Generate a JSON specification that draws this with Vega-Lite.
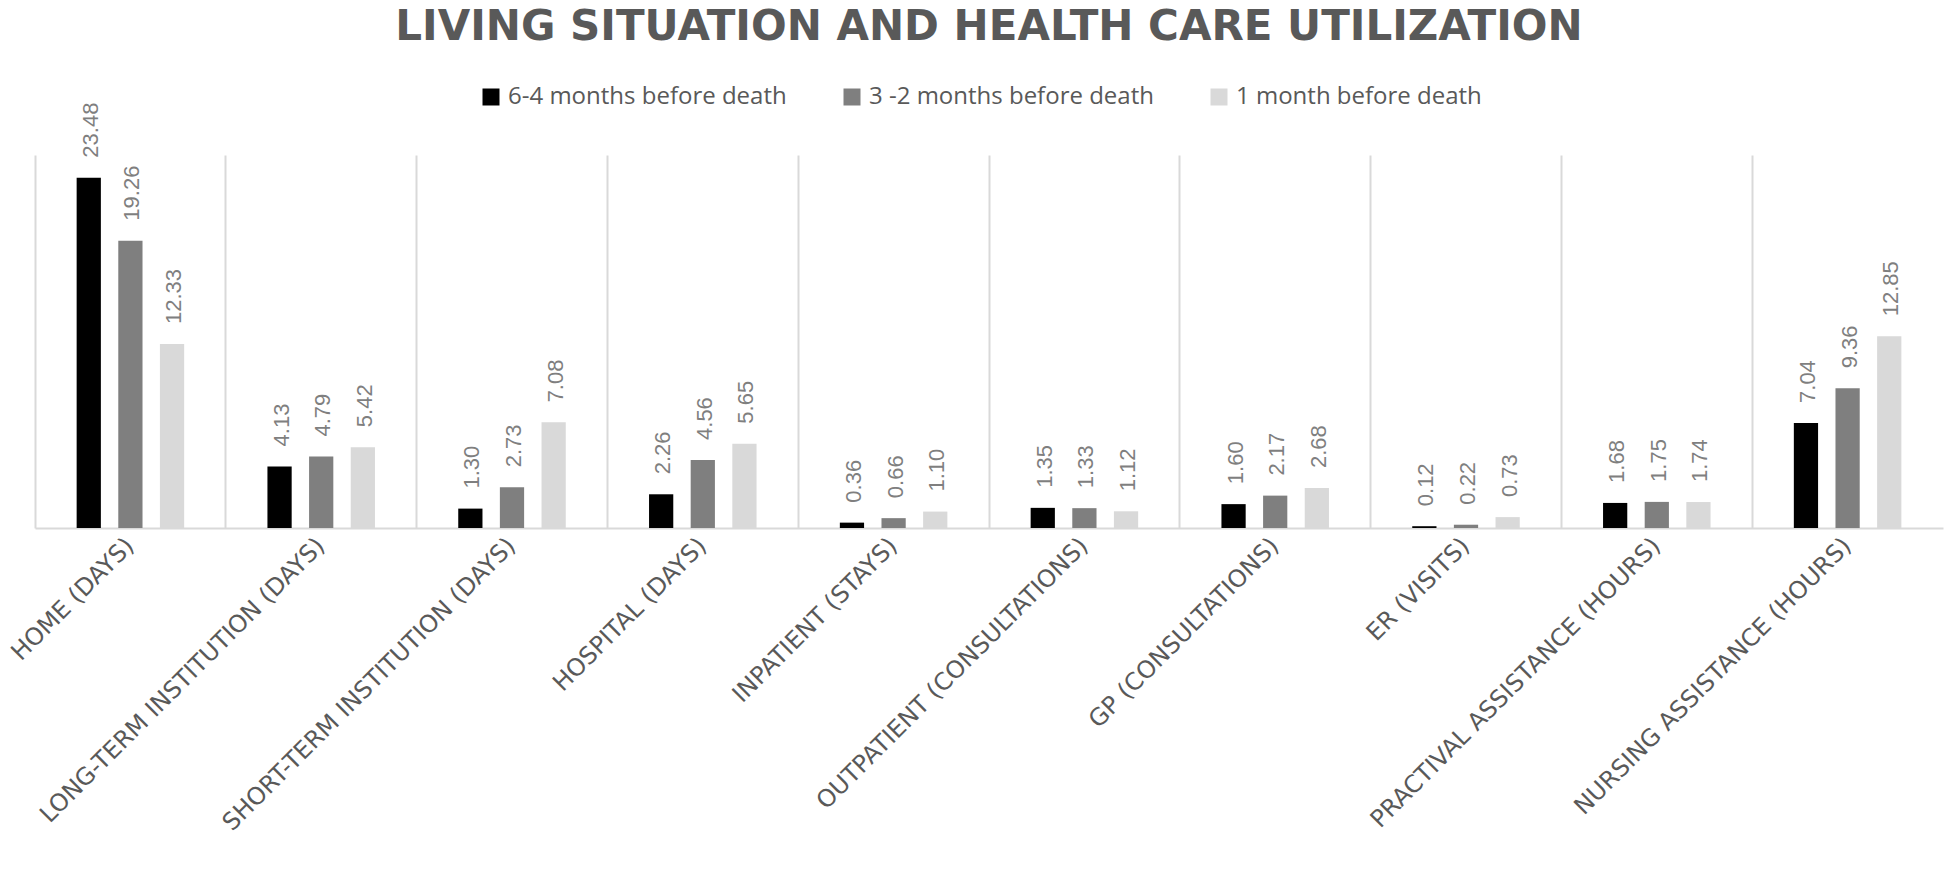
{
  "$schema": "https://vega.github.io/schema/vega-lite/v6.json",
  "autosize": {"type": "none"},
  "width": 1908,
  "height": 373,
  "padding": {"left": 35, "top": 155, "right": 2, "bottom": 354},
  "background": "white",
  "title": {
    "text": "LIVING SITUATION AND HEALTH CARE UTILIZATION",
    "font": "DejaVu Sans",
    "fontSize": 42,
    "fontWeight": "bold",
    "color": "#595959",
    "anchor": "middle",
    "offset": 36
  },
  "data": {
    "values": [
      {"cat": "HOME (DAYS)", "period": "6-4 months before death", "value": 23.48},
      {"cat": "HOME (DAYS)", "period": "3 -2 months before death", "value": 19.26},
      {"cat": "HOME (DAYS)", "period": "1 month before death", "value": 12.33},
      {"cat": "LONG-TERM INSTITUTION (DAYS)", "period": "6-4 months before death", "value": 4.13},
      {"cat": "LONG-TERM INSTITUTION (DAYS)", "period": "3 -2 months before death", "value": 4.79},
      {"cat": "LONG-TERM INSTITUTION (DAYS)", "period": "1 month before death", "value": 5.42},
      {"cat": "SHORT-TERM INSTITUTION (DAYS)", "period": "6-4 months before death", "value": 1.30},
      {"cat": "SHORT-TERM INSTITUTION (DAYS)", "period": "3 -2 months before death", "value": 2.73},
      {"cat": "SHORT-TERM INSTITUTION (DAYS)", "period": "1 month before death", "value": 7.08},
      {"cat": "HOSPITAL (DAYS)", "period": "6-4 months before death", "value": 2.26},
      {"cat": "HOSPITAL (DAYS)", "period": "3 -2 months before death", "value": 4.56},
      {"cat": "HOSPITAL (DAYS)", "period": "1 month before death", "value": 5.65},
      {"cat": "INPATIENT (STAYS)", "period": "6-4 months before death", "value": 0.36},
      {"cat": "INPATIENT (STAYS)", "period": "3 -2 months before death", "value": 0.66},
      {"cat": "INPATIENT (STAYS)", "period": "1 month before death", "value": 1.10},
      {"cat": "OUTPATIENT (CONSULTATIONS)", "period": "6-4 months before death", "value": 1.35},
      {"cat": "OUTPATIENT (CONSULTATIONS)", "period": "3 -2 months before death", "value": 1.33},
      {"cat": "OUTPATIENT (CONSULTATIONS)", "period": "1 month before death", "value": 1.12},
      {"cat": "GP (CONSULTATIONS)", "period": "6-4 months before death", "value": 1.60},
      {"cat": "GP (CONSULTATIONS)", "period": "3 -2 months before death", "value": 2.17},
      {"cat": "GP (CONSULTATIONS)", "period": "1 month before death", "value": 2.68},
      {"cat": "ER (VISITS)", "period": "6-4 months before death", "value": 0.12},
      {"cat": "ER (VISITS)", "period": "3 -2 months before death", "value": 0.22},
      {"cat": "ER (VISITS)", "period": "1 month before death", "value": 0.73},
      {"cat": "PRACTIVAL ASSISTANCE  (HOURS)", "period": "6-4 months before death", "value": 1.68},
      {"cat": "PRACTIVAL ASSISTANCE  (HOURS)", "period": "3 -2 months before death", "value": 1.75},
      {"cat": "PRACTIVAL ASSISTANCE  (HOURS)", "period": "1 month before death", "value": 1.74},
      {"cat": "NURSING ASSISTANCE  (HOURS)", "period": "6-4 months before death", "value": 7.04},
      {"cat": "NURSING ASSISTANCE  (HOURS)", "period": "3 -2 months before death", "value": 9.36},
      {"cat": "NURSING ASSISTANCE  (HOURS)", "period": "1 month before death", "value": 12.85}
    ]
  },
  "encoding": {
    "x": {
      "field": "cat",
      "type": "nominal",
      "sort": null,
      "scale": {"paddingInner": 0, "paddingOuter": 0},
      "axis": {
        "title": null,
        "grid": true,
        "gridColor": "#d9d9d9",
        "gridWidth": 2,
        "bandPosition": 0,
        "ticks": false,
        "domainColor": "#d9d9d9",
        "domainWidth": 2,
        "labelAngle": -45,
        "labelAlign": "right",
        "labelBaseline": "middle",
        "labelFont": "DejaVu Sans",
        "labelFontSize": 24,
        "labelColor": "#595959",
        "labelPadding": 14,
        "labelLimit": 800
      }
    },
    "xOffset": {
      "field": "period",
      "type": "nominal",
      "scale": {
        "domain": ["6-4 months before death", "3 -2 months before death", "1 month before death"],
        "paddingInner": 0.418,
        "paddingOuter": 1.127
      }
    },
    "y": {
      "field": "value",
      "type": "quantitative",
      "scale": {"domain": [0, 25], "nice": false},
      "axis": null
    }
  },
  "layer": [
    {
      "mark": {"type": "bar"},
      "encoding": {
        "color": {
          "field": "period",
          "type": "nominal",
          "scale": {
            "domain": ["6-4 months before death", "3 -2 months before death", "1 month before death"],
            "range": ["#000000", "#7f7f7f", "#d9d9d9"]
          },
          "legend": {
            "title": null,
            "orient": "none",
            "direction": "horizontal",
            "legendX": 444,
            "legendY": -70,
            "symbolType": "square",
            "symbolSize": 289,
            "symbolStrokeWidth": 0,
            "labelFont": "Open Sans",
            "labelFontSize": 24,
            "labelColor": "#595959",
            "labelOffset": 5,
            "columnPadding": 53,
            "padding": 0,
            "labelLimit": 400
          }
        }
      }
    },
    {
      "mark": {
        "type": "text",
        "angle": -90,
        "align": "left",
        "baseline": "middle",
        "dx": 20,
        "dy": 2,
        "font": "Liberation Sans",
        "fontSize": 22,
        "color": "#7f7f7f"
      },
      "encoding": {
        "text": {"field": "value", "type": "quantitative", "format": ".2f"}
      }
    }
  ],
  "config": {
    "view": {"stroke": null}
  }
}
